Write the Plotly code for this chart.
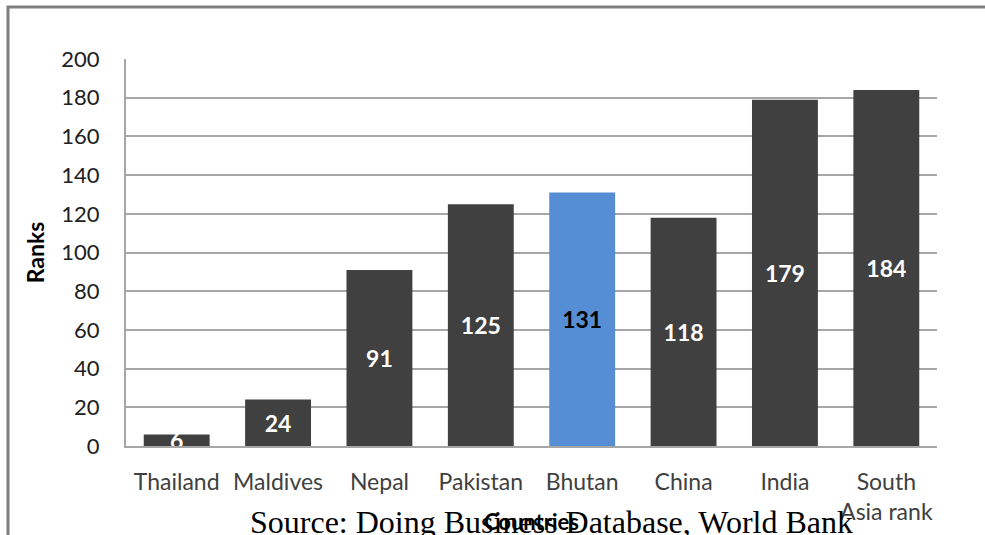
import plotly.graph_objects as go

countries = ["Thailand", "Maldives", "Nepal", "Pakistan", "Bhutan", "China", "India", "South<br>Asia rank"]
ranks = [6, 24, 91, 125, 131, 118, 179, 184]
highlight = "Bhutan"

dark = "#404040"
blue = "#558ED5"
bar_colors = [blue if c == highlight else dark for c in countries]
text_colors = ["#000000" if c == highlight else "#FFFFFF" for c in countries]

fig = go.Figure(
    go.Bar(
        x=countries,
        y=ranks,
        marker=dict(color=bar_colors, line=dict(width=0)),
        text=[str(v) for v in ranks],
        textposition="inside",
        insidetextanchor="middle",
        constraintext="none",
        textangle=0,
        textfont=dict(family="Lato", size=23, color=text_colors, weight="bold"),
        cliponaxis=True,
    )
)

fig.update_layout(
    width=985,
    height=535,
    margin=dict(l=126, r=48, t=59, b=89),
    paper_bgcolor="white",
    plot_bgcolor="white",
    bargap=0.35,
    showlegend=False,
    font=dict(family="Lato", size=22, color="#404040"),
    xaxis=dict(
        automargin=False,
        showgrid=False,
        showline=True,
        linecolor="#A6A6A6",
        linewidth=2,
        ticks="",
        ticklabelstandoff=14,
        tickfont=dict(family="Lato", size=23, color="#404040"),
        title=dict(text="Countries", font=dict(family="Lato", size=22, color="#000000", weight="bold"), standoff=0),
    ),
    yaxis=dict(
        automargin=False,
        range=[0, 200],
        dtick=20,
        showgrid=True,
        gridcolor="#A6A6A6",
        gridwidth=1.5,
        showline=True,
        linecolor="#A6A6A6",
        linewidth=2,
        zeroline=False,
        ticks="",
        ticklabelstandoff=20,
        tickfont=dict(family="Lato", size=22, color="#202020"),
        title=dict(text="Ranks", font=dict(family="Lato", size=23, color="#000000", weight="bold"), standoff=10),
    ),
    shapes=[
        dict(
            type="rect", xref="paper", yref="paper",
            x0=(8 - 126) / 811, x1=(995 - 126) / 811,
            y0=(446 - 545) / 387, y1=(446 - 7) / 387,
            line=dict(color="#7F7F7F", width=3), fillcolor="rgba(0,0,0,0)", layer="above",
        )
    ],
    annotations=[
        dict(
            text="Source: Doing Business Database, World Bank",
            xref="paper", yref="paper",
            x=(551 - 126) / 811, y=(446 - 522) / 387,
            xanchor="center", yanchor="middle",
            showarrow=False,
            font=dict(family="Liberation Serif", size=32, color="#000000"),
        )
    ],
)

fig.write_html("out.html")
